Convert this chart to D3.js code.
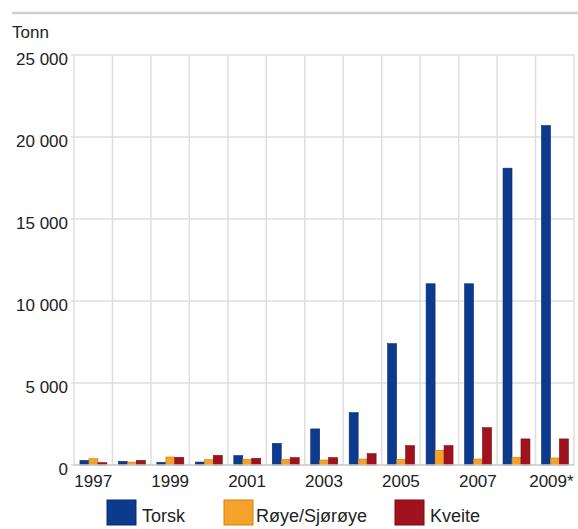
<!DOCTYPE html>
<html>
<head>
<meta charset="utf-8">
<script src="https://cdn.jsdelivr.net/npm/d3@7"></script>
<style>
  html, body { margin: 0; padding: 0; background: #fff; }
  svg { display: block; font-family: "Liberation Sans", Arial, sans-serif; }
</style>
</head>
<body>
<svg id="chart" width="578" height="529"></svg>
<script>
// Years (2009 is provisional)
const years = ["1997","1998","1999","2000","2001","2002","2003","2004","2005","2006","2007","2008","2009*"];
const seriesNames = ["Torsk", "Røye/Sjørøye", "Kveite"];
// Tonnes per year for each species
const torsk  = [280, 220, 160, 180, 570, 1320, 2200, 3190, 7400, 11050, 11050, 18100, 20700];
const roye   = [385, 180, 490, 325, 345, 345, 305, 365, 350, 900, 365, 470, 430];
const kveite = [140, 280, 465, 585, 410, 450, 450, 690, 1180, 1180, 2275, 1590, 1590];
const yTicks = [0, 5000, 10000, 15000, 20000, 25000];
const colors = ["#0b3a8f", "#f5a22b", "#a0121e"];
const strokes = ["#082a6a", "#c98218", "#760c15"];

const series = [torsk, roye, kveite];
const svg = d3.select("#chart");

const plot = { left: 74, right: 574, top: 55, bottom: 465 };

// Header rule and unit label
svg.append("line")
  .attr("x1", 12).attr("x2", 578).attr("y1", 13).attr("y2", 13)
  .attr("stroke", "#cfcfcf").attr("stroke-width", 2.5);
svg.append("text")
  .attr("x", 12).attr("y", 38)
  .attr("font-size", 17).attr("fill", "#222")
  .text("Tonn");

const x0 = d3.scaleBand().domain(years).range([plot.left, plot.right]).padding(0);
const x1 = d3.scaleBand().domain(d3.range(series.length))
  .range([x0.bandwidth() * 0.155, x0.bandwidth() * 0.855]).padding(0);
const y = d3.scaleLinear().domain([0, 25000]).range([plot.bottom, plot.top]);

const fmt = v => d3.format(",")(v).replace(/,/g, " ");

// Grid: horizontal lines at value ticks, vertical lines at category boundaries
const grid = svg.append("g").attr("stroke", "#dedede").attr("stroke-width", 1.5);
yTicks.forEach(t => {
  grid.append("line")
    .attr("x1", plot.left - 3).attr("x2", plot.right)
    .attr("y1", y(t)).attr("y2", y(t));
});
years.forEach(yr => {
  grid.append("line")
    .attr("x1", x0(yr)).attr("x2", x0(yr))
    .attr("y1", plot.top).attr("y2", plot.bottom);
});
grid.append("line")
  .attr("x1", plot.right).attr("x2", plot.right)
  .attr("y1", plot.top).attr("y2", plot.bottom);

// Y axis labels
const yAxis = svg.append("g")
  .attr("transform", `translate(${plot.left - 6},0)`)
  .call(d3.axisLeft(y).tickValues(yTicks).tickFormat(fmt).tickSize(0).tickPadding(0));
yAxis.select(".domain").remove();
yAxis.selectAll("text")
  .attr("font-size", 17).attr("fill", "#222")
  .attr("font-family", "Liberation Sans, Arial, sans-serif")
  .attr("dy", "0.55em");

// Bars
years.forEach((yr, i) => {
  series.forEach((s, k) => {
    svg.append("rect")
      .attr("x", x0(yr) + x1(k))
      .attr("width", x1.bandwidth())
      .attr("y", y(s[i]))
      .attr("height", y(0) - y(s[i]))
      .attr("fill", colors[k])
      .attr("stroke", strokes[k]).attr("stroke-width", 0.6);
  });
});

// Bottom axis line
svg.append("line")
  .attr("x1", plot.left).attr("x2", plot.right)
  .attr("y1", plot.bottom).attr("y2", plot.bottom)
  .attr("stroke", "#cccccc").attr("stroke-width", 1.5);

// X labels on every second year, kept inside the chart width
const xLabels = svg.append("g");
years.forEach((yr, i) => {
  if (i % 2 !== 0) return;
  const t = xLabels.append("text")
    .attr("x", x0(yr) + x0.bandwidth() / 2)
    .attr("y", 487)
    .attr("text-anchor", "middle")
    .attr("font-size", 17).attr("fill", "#222")
    .text(yr);
  const bb = t.node().getBBox();
  if (bb.x + bb.width > 574) t.attr("x", +t.attr("x") - (bb.x + bb.width - 574));
});

// Legend
const legendX = [107, 224, 395];
const legendTextOffset = [35, 32, 35];
seriesNames.forEach((name, k) => {
  const g = svg.append("g").attr("transform", `translate(${legendX[k]},500)`);
  g.append("rect")
    .attr("width", 29).attr("height", 25)
    .attr("fill", colors[k])
    .attr("stroke", strokes[k]).attr("stroke-width", 1);
  g.append("text")
    .attr("x", legendTextOffset[k]).attr("y", 22)
    .attr("font-size", 18).attr("fill", "#222")
    .text(name);
});
</script>
</body>
</html>
